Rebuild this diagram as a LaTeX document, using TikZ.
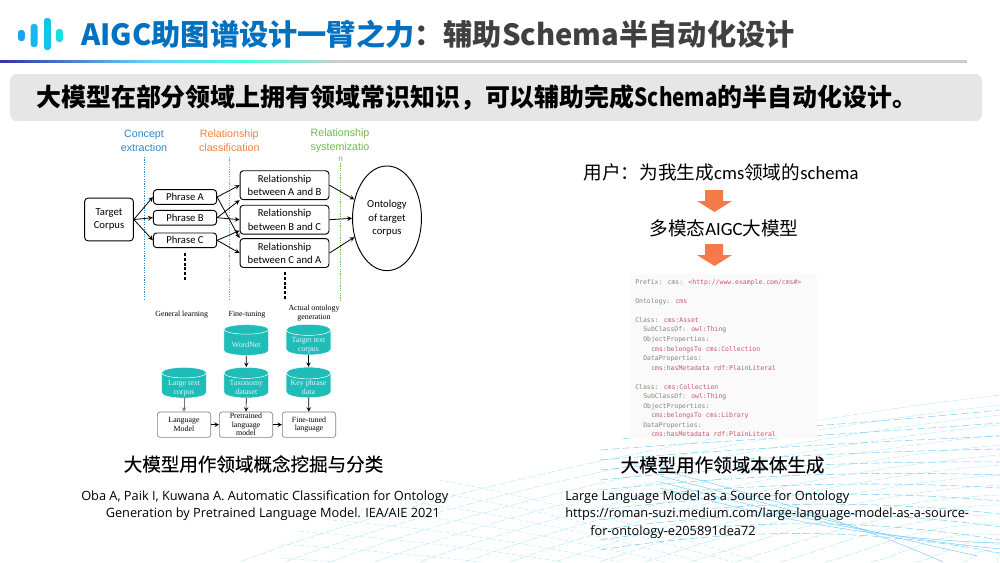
\documentclass[tikz,border=0pt]{standalone}
\usepackage{fontspec}
\usepackage{graphicx}
\usetikzlibrary{shapes.geometric}
\setmainfont{Noto Sans CJK SC}
\newfontfamily\capfont[FakeBold=0.25]{Noto Sans CJK SC}
\newfontfamily\citefont{Open Sans}
\newfontfamily\flowfont[Ligatures=NoCommon]{Carlito}
\newfontfamily\headfont{Liberation Sans}
\newfontfamily\bookfont{Liberation Serif}
\newfontfamily\codefont{DejaVu Sans Mono}
\definecolor{titleblue}{HTML}{0070C0}
\definecolor{titlegrey}{HTML}{404040}
\definecolor{barband}{HTML}{E6E6E6}
\definecolor{conceptblue}{HTML}{2E86C8}
\definecolor{relorange}{HTML}{F0823C}
\definecolor{sysgreen}{HTML}{70B84C}
\definecolor{dbteal}{HTML}{20BDB8}
\definecolor{blockorange}{HTML}{F47A4A}
\definecolor{codekey}{HTML}{85857A}
\definecolor{codeval}{HTML}{C4566E}
\definecolor{meshpale}{HTML}{B4ECF4}
\definecolor{meshblue}{HTML}{7FCFF4}
\newcommand{\cv}[1]{\textcolor{codeval}{#1}}
\newcommand{\dbtext}[1]{\smash{\raisebox{-3.8pt}{\begin{tabular}{@{}c@{}}#1\end{tabular}}}}
\tikzset{
    flowbox/.style={draw=black, line width=0.7pt, rounded corners=2.5pt, align=center,
        font=\flowfont\fontsize{8}{10}\selectfont, inner sep=0pt},
    headlabel/.style={align=center, inner sep=0pt, font=\headfont\fontsize{8}{10.5}\selectfont},
    guideline/.style={line width=1pt, dash pattern=on 0.9pt off 0.9pt},
    flowarrow/.style={->, >=stealth, line width=0.6pt},
    bookhead/.style={align=center, inner sep=0pt, font=\bookfont\fontsize{5.9}{6.6}\selectfont},
    dbcyl/.style={shape=cylinder, shape border rotate=90, aspect=0.33, draw=white, line width=0.35pt,
        cylinder uses custom fill, cylinder body fill=dbteal, cylinder end fill=dbteal,
        minimum width=33.5pt, minimum height=23pt, inner sep=0pt, text=white!85!dbteal,
        font=\bookfont\fontsize{5.9}{6.6}\selectfont},
    stagebox/.style={draw=black!50, line width=0.5pt, rounded corners=2pt, minimum width=40pt,
        minimum height=19pt, inner sep=0pt, align=center, font=\bookfont\fontsize{5.9}{6.4}\selectfont},
    codeline/.style={anchor=mid west, inner sep=0pt, text=codekey, font=\codefont\fontsize{4.85}{6}\selectfont},
    citeline/.style={anchor=mid west, inner sep=0pt, font=\citefont\fontsize{9.58}{11}\selectfont},
    mainline/.style={inner sep=0pt, font=\fontsize{14}{16}\selectfont},
    caption/.style={inner sep=0pt, font=\capfont\fontsize{13.9}{16}\selectfont},
}
\begin{document}
\begin{tikzpicture}[x=0.75pt, y=-0.75pt]
    \useasboundingbox (0,0) rectangle (1000,562);

    % Background mesh
    \begin{scope}
        \clip (240,562) .. controls (380,480) and (620,430) .. (800,415) -- (1000,385) -- (1000,562) -- cycle;
        \foreach \i in {0,...,17}
            \draw[meshpale, line width=0.35pt, dash pattern=on 6pt off 1.5pt]
                (240+\i*45,562) .. controls (400+\i*36,500+\i*4) and (700+\i*17,430+\i*7) .. (1000,395+\i*10);
        \foreach \i in {0,...,11}
            \draw[meshblue, line width=0.4pt, dash pattern=on 6pt off 2.5pt]
                (600,440+\i*10) .. controls (720,432+\i*9) and (850,425+\i*9) .. (1000,410+\i*13);
        \foreach \i in {0,...,9}
            \draw[meshpale, line width=0.35pt, dash pattern=on 3pt off 2pt]
                (280,460+\i*14) .. controls (420,470+\i*14) and (560,500+\i*11) .. (760,562+\i*8);
        \foreach \i in {0,...,3}
            \draw[meshblue, line width=0.4pt]
                (660,470+\i*6) .. controls (760,495+\i*6) and (860,525+\i*6) .. (943+\i*35,562-\i*6);
    \end{scope}

    % Title
    \foreach \xx/\ya/\yb/\col in {18/30/41/1AA6F5, 30.7/24/47/1AB6EE, 44/18/50/13C5E5, 56/29/42/19E0DC} {
        \definecolor{logobar}{HTML}{\col}
        \fill[logobar, rounded corners=2pt] (\xx,\ya) rectangle (\xx+6.8,\yb);
    }
    \node[anchor=mid west, inner sep=0pt, font=\bfseries\fontsize{21.9}{26}\selectfont] (title) at (81,41.5)
        {\textcolor{titleblue}{AIGC助图谱设计一臂之力}\textcolor{titlegrey}{：辅助Schema半自动化设计}};
    \fill[left color=blue!55!black!80, right color=blue!30!cyan!60] (0,60.2) rectangle (150,62.8);
    \fill[left color=blue!30!cyan!60, right color=cyan!80!green!70] (150,60.2) rectangle (250,62.8);
    \fill[left color=cyan!80!green!70, right color=black!20] (250,60.2) rectangle (340,62.8);
    \fill[black!20] (340,60.2) rectangle (967,62.8);

    % Summary band
    \fill[barband, rounded corners=5pt] (10,74) rectangle (982,121);
    \node[anchor=mid west, inner sep=0pt, font=\bfseries\fontsize{18.7}{22}\selectfont] (summary) at (36,102.5)
        {大模型在部分领域上拥有领域常识知识，可以辅助完成\scalebox{0.83}[1]{Schema}的半自动化设计。};

    % Stage labels and guides
    \node[headlabel, text=conceptblue] (conceptlabel) at (144,140.5) {Concept\\extraction};
    \node[headlabel, text=relorange] (classlabel) at (229.3,140.5) {Relationship\\classification};
    \node[headlabel, text=sysgreen] (syslabel) at (340,140.5) {Relationship\\systemizatio};
    \node[inner sep=0pt, text=sysgreen, font=\headfont\fontsize{6}{6}\selectfont] (syslabeltail) at (340.7,159) {n};
    \draw[guideline, conceptblue] (144.3,157) -- (144.3,300);
    \draw[guideline, relorange] (229.3,157) -- (229.3,300);
    \draw[guideline, sysgreen] (340.7,163) -- (340.7,300);

    % Extraction flow
    \node[flowbox, minimum width=36.5pt, minimum height=32pt] (corpus) at (109,219.5) {Target\\Corpus};
    \node[flowbox, minimum width=47.5pt, minimum height=11pt] (phraseA) at (185,197) {Phrase A};
    \node[flowbox, minimum width=47.5pt, minimum height=11pt] (phraseB) at (185,217.7) {Phrase B};
    \node[flowbox, minimum width=47.5pt, minimum height=11pt] (phraseC) at (185,240.3) {Phrase C};
    \node[flowbox, minimum width=66.7pt, minimum height=21.7pt] (relA) at (284.5,185.2) {Relationship\\between A and B};
    \node[flowbox, minimum width=66.7pt, minimum height=21.7pt] (relB) at (284.5,219.7) {Relationship\\between B and C};
    \node[flowbox, minimum width=66.7pt, minimum height=21.7pt] (relC) at (284.5,253) {Relationship\\between C and A};
    \node[flowbox, shape=ellipse, minimum width=51.7pt, minimum height=78.5pt] (ontology) at (387,218.3)
        {Ontology\\of target\\corpus};

    \draw[flowarrow] (corpus.east) -- (phraseA.west);
    \draw[flowarrow] (corpus.east) -- (phraseB.west);
    \draw[flowarrow] (corpus.east) -- (phraseC.west);
    \draw[flowarrow] (phraseA.east) -- (relA.west);
    \draw[flowarrow] (phraseA.east) -- (relC.north west);
    \draw[flowarrow] (phraseB.east) -- (relA.south west);
    \draw[flowarrow] (phraseB.east) -- (relB.west);
    \draw[flowarrow] (phraseC.east) -- ([yshift=3pt]relB.south west);
    \draw[flowarrow] (phraseC.east) -- (relC.west);
    \draw[flowarrow] (relA.east) -- (ontology.150);
    \draw[flowarrow] (relB.east) -- (ontology.west);
    \draw[flowarrow] (relC.east) -- (ontology.210);
    \draw[line width=1.6pt, dash pattern=on 2.2pt off 1.4pt] (185,253) -- (185,281);
    \draw[line width=1.6pt, dash pattern=on 2.2pt off 1.4pt] (285,272) -- (285,300);

    % Training flow
    \node[bookhead] (generalhead) at (181.7,315) {General learning};
    \node[bookhead] (finehead) at (247,315) {Fine-tuning};
    \node[bookhead] (actualhead) at (314,313) {Actual ontology\\generation};

    \node[dbcyl] (wordnet) at (246.3,342.5) {\dbtext{WordNet}};
    \node[dbcyl] (targettext) at (308.5,342.5) {\dbtext{Target text\\corpus}};
    \node[dbcyl] (largetext) at (184,385.5) {\dbtext{Large text\\corpus}};
    \node[dbcyl] (taxonomy) at (246.3,385.5) {\dbtext{Taxonomy\\dataset}};
    \node[dbcyl] (keyphrase) at (308.5,385.5) {\dbtext{Key phrase\\data}};

    \node[stagebox] (langmodel) at (184,424.7) {Language\\Model};
    \node[stagebox] (pretrained) at (246,424.7) {Pretrained\\language\\model};
    \node[stagebox] (finetuned) at (309,424.7) {Fine-tuned\\language};

    \draw[flowarrow, line width=0.5pt] (wordnet) -- (taxonomy);
    \draw[flowarrow, line width=0.5pt] (targettext) -- (keyphrase);
    \draw[flowarrow, line width=0.5pt, black!55] (largetext) -- (langmodel);
    \draw[flowarrow, line width=0.5pt] (taxonomy) -- (pretrained);
    \draw[flowarrow, line width=0.5pt] (keyphrase) -- (finetuned);
    \draw[flowarrow, line width=0.5pt] (langmodel) -- (pretrained);
    \draw[flowarrow, line width=0.5pt] (pretrained) -- (finetuned);

    % Left caption and citation
    \node[caption] (leftcaption) at (253.5,464) {大模型用作领域概念挖掘与分类};
    \node[citeline] (leftciteA) at (81,496.5) {Oba A, Paik I, Kuwana A. Automatic Classification for Ontology};
    \node[citeline] (leftciteB) at (105.5,513.5) {Generation by Pretrained Language Model. IEA/AIE 2021};

    % Generation steps
    \node[mainline] (prompt) at (721,172) {用户：为我生成{\flowfont\fontsize{14}{16}\selectfont cms}领域的{\flowfont\fontsize{14}{16}\selectfont schema}};
    \node[mainline] (bigmodel) at (724,228) {多模态{\flowfont\fontsize{14}{16}\selectfont AIGC}大模型};
    \foreach \yy in {190,244}
        \fill[blockorange] (705,\yy) -- (723,\yy) -- (723,\yy+11) -- (732,\yy+11)
            -- (714.5,\yy+22) -- (697,\yy+11) -- (705,\yy+11) -- cycle;

    % Schema listing
    \fill[black!2] (629.5,274) rectangle (817,438);
    \foreach \xx/\yy/\txt [count=\i] in {
        635/280.7/{Prefix: cms: \cv{<http://www.example.com/cms\#>}},
        635/299.7/{Ontology: \cv{cms}},
        635/318.7/{Class: \cv{cms:Asset}},
        643/328.3/{SubClassOf: \cv{owl:Thing}},
        643/338/{ObjectProperties:},
        651/347.7/{\cv{cms:belongsTo cms:Collection}},
        643/357/{DataProperties:},
        651/366.7/{\cv{cms:hasMetadata rdf:PlainLiteral}},
        635/385.7/{Class: \cv{cms:Collection}},
        643/395.3/{SubClassOf: \cv{owl:Thing}},
        643/405/{ObjectProperties:},
        651/414.3/{\cv{cms:belongsTo cms:Library}},
        643/424/{DataProperties:},
        651/433.3/{\cv{cms:hasMetadata rdf:PlainLiteral}}}
        \node[codeline] (code\i) at (\xx,\yy) {\txt};

    % Right caption and citation
    \node[caption] (rightcaption) at (722.5,465) {大模型用作领域本体生成};
    \node[citeline] (rightciteA) at (565,496.5) {Large Language Model as a Source for Ontology};
    \node[citeline] (rightciteB) at (565,514) {https://roman-suzi.medium.com/large-language-model-as-a-source-};
    \node[citeline] (rightciteC) at (590,531.5) {for-ontology-e205891dea72};
\end{tikzpicture}
\end{document}
